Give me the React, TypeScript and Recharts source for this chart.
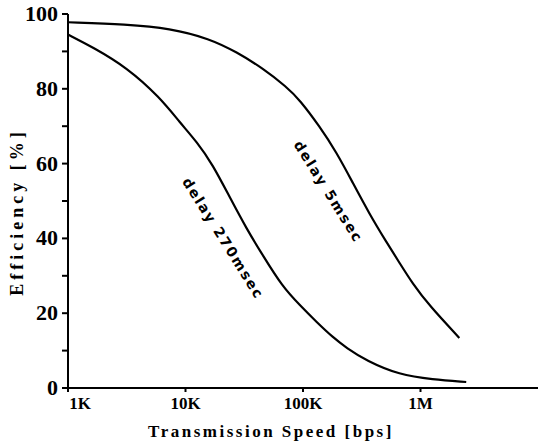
import React from "react";
import { LineChart, Line, XAxis, YAxis, ReferenceDot } from "recharts";

// ─── Data ─────────────────────────────────────────────────────────────────────

const speed5ms = [1000, 3150, 7360, 16070, 27300, 45400, 72600, 94000, 138000, 193000, 264000, 368000, 513000, 662000, 853000, 1190000, 2140000];
const eff5ms = [97.8, 97.2, 96.2, 93.4, 89.8, 85.5, 80.5, 77, 70, 63, 55, 46.5, 39, 33.5, 28, 22, 13.4];

const speed270ms = [1000, 1630, 3170, 6050, 8950, 12500, 17000, 23800, 33200, 45400, 67100, 93600, 130600, 178600, 235000, 346000, 662000, 1260000, 2450000];
const eff270ms = [94.5, 91.1, 85.7, 77.7, 71, 65.8, 59.8, 51, 42.5, 35.5, 27, 22.2, 17.6, 13.6, 10.7, 7.3, 3.5, 2.3, 1.6];

const xTicks = [1000, 10000, 100000, 1000000];
const xTickLabels = ["1K", "10K", "100K", "1M"];
const yTicks = [0, 10, 20, 30, 40, 50, 60, 70, 80, 90, 100];
const yLabelled = [0, 20, 40, 60, 80, 100];

// curve annotations, anchored in data coordinates
const notes = [
  { text: "delay 5msec", x: 165000, y: 52.5 },
  { text: "delay 270msec", x: 21000, y: 40 },
];

const data5 = speed5ms.map((s, i) => ({ speed: s, eff: eff5ms[i] }));
const data270 = speed270ms.map((s, i) => ({ speed: s, eff: eff270ms[i] }));

const serif: React.CSSProperties = {
  fontFamily: "Liberation Serif",
  fontWeight: "bold",
};

// ─── Ticks ────────────────────────────────────────────────────────────────────

function XTick(props: any) {
  const { x, y, payload, index } = props;
  const i = xTicks.indexOf(payload.value);
  return (
    <text
      x={x + (index === 0 ? 12 : 0)}
      y={y}
      dy={15}
      textAnchor="middle"
      style={{ ...serif, fontSize: 17 }}
      fill="#000"
    >
      {i >= 0 ? xTickLabels[i] : ""}
    </text>
  );
}

function YTick(props: any) {
  const { x, y, payload } = props;
  if (!yLabelled.includes(payload.value)) return <g />;
  return (
    <text
      x={x}
      y={y}
      dy={7}
      textAnchor="end"
      style={{ ...serif, fontSize: 22 }}
      fill="#000"
    >
      {payload.value}
    </text>
  );
}

function NoteLabel(props: any) {
  const { cx, cy, text } = props;
  return (
    <text
      x={cx}
      y={cy}
      textAnchor="middle"
      dominantBaseline="central"
      transform={`rotate(58 ${cx} ${cy})`}
      style={{
        fontFamily: "DejaVu Sans",
        fontWeight: "bold",
        fontSize: 14,
        letterSpacing: 1.8,
      }}
      fill="#000"
    >
      {text}
    </text>
  );
}

// ─── Chart ────────────────────────────────────────────────────────────────────

export default function App() {
  return (
    <div style={{ position: "absolute", left: 0, top: 0, background: "#fff" }}>
      <LineChart width={538} height={444} margin={{ top: 14, right: 0, bottom: 0, left: 0 }}>
        <XAxis
          dataKey="speed"
          type="number"
          scale="log"
          domain={[1000, 10000000]}
          allowDataOverflow
          ticks={xTicks}
          tick={<XTick />}
          tickSize={4}
          tickMargin={2}
          height={56}
          stroke="#000"
          strokeWidth={2}
        />
        <YAxis
          type="number"
          domain={[0, 100]}
          ticks={yTicks}
          tick={<YTick />}
          tickSize={6}
          tickMargin={4}
          width={68}
          interval={0}
          stroke="#000"
          strokeWidth={2}
        />
        <Line
          data={data5}
          dataKey="eff"
          type="basis"
          stroke="#000"
          strokeWidth={2.2}
          dot={false}
          isAnimationActive={false}
        />
        <Line
          data={data270}
          dataKey="eff"
          type="basis"
          stroke="#000"
          strokeWidth={2.2}
          dot={false}
          isAnimationActive={false}
        />
        {notes.map((n) => (
          <ReferenceDot
            key={n.text}
            x={n.x}
            y={n.y}
            r={0}
            ifOverflow="visible"
            shape={(p: any) => <NoteLabel {...p} text={n.text} />}
          />
        ))}
        <text
          x={17}
          y={212}
          textAnchor="middle"
          dominantBaseline="central"
          transform="rotate(-90 17 212)"
          style={{ ...serif, fontSize: 18, letterSpacing: 4 }}
        >
          Efficiency  [%]
        </text>
        <text
          x={271}
          y={437}
          textAnchor="middle"
          style={{ ...serif, fontSize: 17, letterSpacing: 2.5 }}
        >
          Transmission Speed  [bps]
        </text>
      </LineChart>
    </div>
  );
}
